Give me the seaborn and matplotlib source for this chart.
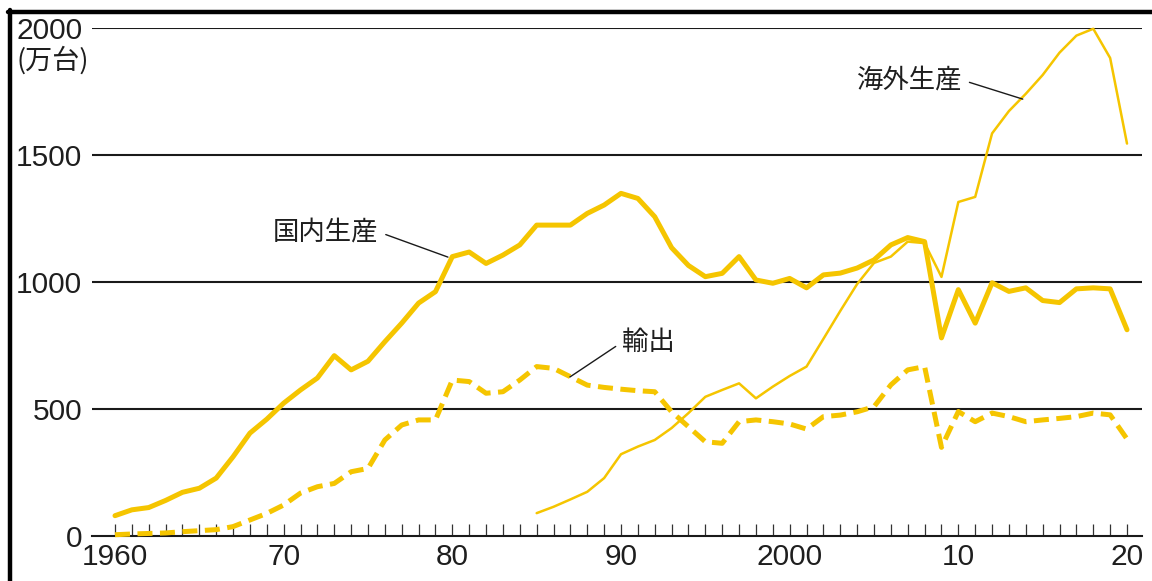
import numpy as np
import pandas as pd
import matplotlib
matplotlib.use("Agg")
import matplotlib.pyplot as plt
from matplotlib.lines import Line2D
import seaborn as sns

years = list(range(1960, 2021))
domestic = [80, 103, 112, 140, 172, 188, 228, 312, 405, 460,
            523, 575, 622, 710, 654, 688, 765, 838, 917, 962,
            1100, 1118, 1073, 1106, 1146, 1224, 1224, 1224, 1270, 1303,
            1349, 1329, 1257, 1135, 1065, 1021, 1034, 1100, 1008, 995,
            1014, 977, 1028, 1035, 1055, 1087, 1146, 1175, 1159, 780,
            970, 838, 997, 963, 977, 927, 919, 973, 977, 973,
            812]
export = [5, 8, 10, 12, 17, 21, 25, 37, 63, 89,
          122, 169, 194, 207, 253, 266, 378, 437, 457, 457,
          614, 608, 562, 568, 614, 667, 660, 627, 594, 585,
          578, 572, 568, 489, 430, 371, 365, 450, 457, 450,
          441, 421, 470, 476, 489, 509, 595, 654, 667, 349,
          490, 450, 484, 470, 450, 457, 463, 470, 484, 477,
          382]
overseas_years = list(range(1985, 2021))
overseas = [90, 115, 144, 174, 228, 322, 352, 378, 425, 484,
            548, 575, 601, 542, 588, 630, 667, 776, 886, 992,
            1075, 1100, 1159, 1153, 1020, 1315, 1335, 1585, 1673, 1741,
            1815, 1903, 1970, 1997, 1882, 1545]

ytick_vals = [0, 500, 1000, 1500, 2000]
ytick_labels = ["0", "500", "1000", "1500", "2000"]
xtick_major = [1960, 1970, 1980, 1990, 2000, 2010, 2020]
xtick_labels = ["1960", "70", "80", "90", "2000", "10", "20"]
unit_label = "(万台)"
label_domestic = "国内生産"
label_export = "輸出"
label_overseas = "海外生産"

df_main = pd.DataFrame({"year": years, "domestic": domestic, "export": export})
df_over = pd.DataFrame({"year": overseas_years, "overseas": overseas})

sns.set_style("white")
plt.rcParams["font.family"] = ["Liberation Sans", "Noto Sans CJK JP", "DejaVu Sans"]

YELLOW = "#F5C500"
TXT = "#1e1e1e"

fig = plt.figure(figsize=(11.52, 5.81), dpi=100)
ax = fig.add_axes([92 / 1152, (581 - 536) / 581, 1050 / 1152, (536 - 28) / 581])

# gridlines
for v in ytick_vals[1:]:
    ax.axhline(v, color="#1a1a1a", lw=1.5, zorder=1)

sns.lineplot(data=df_main, x="year", y="domestic", ax=ax, color=YELLOW,
             linewidth=3.6, zorder=3, clip_on=False)
sns.lineplot(data=df_main, x="year", y="export", ax=ax, color=YELLOW,
             linewidth=3.6, zorder=3, clip_on=False, linestyle=(0, (3.0, 1.5)))
sns.lineplot(data=df_over, x="year", y="overseas", ax=ax, color=YELLOW,
             linewidth=1.8, zorder=3, clip_on=False)

ax.set_xlim(1960 - 23 / 16.87, 2020 + 15 / 16.87)
ax.set_ylim(0, 2000)
ax.set_xlabel("")
ax.set_ylabel("")

ax.set_xticks(years, minor=True)
ax.set_xticks(xtick_major)
ax.set_xticklabels(xtick_labels, fontsize=21.5, color=TXT)
ax.tick_params(axis="x", which="both", direction="in", length=8.5, width=0.9,
               color="#333333", pad=5, bottom=True)
ax.set_yticks(ytick_vals)
ax.set_yticklabels(ytick_labels, fontsize=21.5, color=TXT)
ax.tick_params(axis="y", length=0, pad=7)

for s in ["left", "right", "top"]:
    ax.spines[s].set_visible(False)
ax.spines["bottom"].set_color("#1a1a1a")
ax.spines["bottom"].set_linewidth(1.5)

cjk = ["Noto Sans CJK JP", "DejaVu Sans"]
ax.annotate(label_domestic, xy=(1979.74, 1098), xytext=(1972.5, 1197),
            ha="center", va="center", fontsize=19, color=TXT, family=cjk,
            arrowprops=dict(arrowstyle="-", color="#1a1a1a", lw=1.0,
                            relpos=(1.0, 0.5), shrinkA=3, shrinkB=0))
ax.annotate(label_export, xy=(1986.97, 626), xytext=(1991.65, 764),
            ha="center", va="center", fontsize=19, color=TXT, family=cjk,
            arrowprops=dict(arrowstyle="-", color="#1a1a1a", lw=1.0,
                            relpos=(0.0, 0.5), shrinkA=3, shrinkB=0))
ax.annotate(label_overseas, xy=(2013.82, 1720), xytext=(2007.1, 1795),
            ha="center", va="center", fontsize=19, color=TXT, family=cjk,
            arrowprops=dict(arrowstyle="-", color="#1a1a1a", lw=1.0,
                            relpos=(1.0, 0.5), shrinkA=3, shrinkB=0))

fig.text(89 / 1152, (581 - 60) / 581, unit_label, ha="right", va="center",
         fontsize=19.5, color=TXT, family=cjk)

# scanned page frame (top and left)
fig.add_artist(Line2D([10 / 1152, 10 / 1152], [0, (581 - 10) / 581],
                      transform=fig.transFigure, color="black", lw=3.2))
fig.add_artist(Line2D([8 / 1152, 1], [(581 - 12) / 581, (581 - 12) / 581],
                      transform=fig.transFigure, color="black", lw=3.2))

fig.savefig("out.png", dpi=100)
